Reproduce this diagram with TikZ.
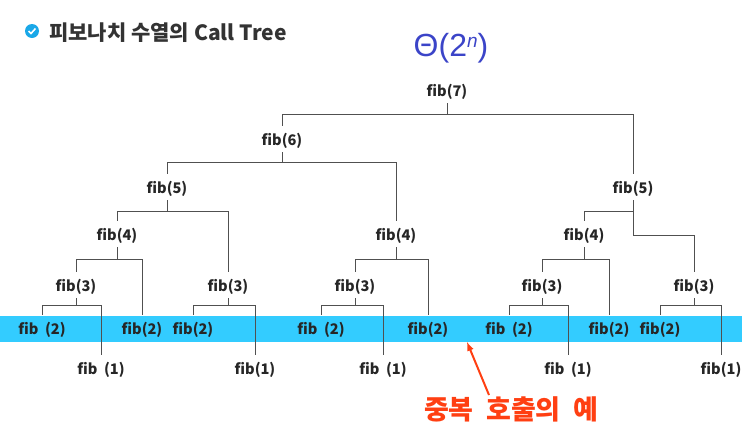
\documentclass[tikz,border=0pt]{standalone}
\usepackage{fontspec}
\setmainfont{Noto Sans CJK KR}
\newfontfamily\thetafont{Liberation Sans}
\definecolor{bandblue}{HTML}{33CCFF}
\definecolor{iconblue}{HTML}{1AA8E8}
\definecolor{thetablue}{HTML}{3B44C8}
\definecolor{callred}{HTML}{FF3F12}
\definecolor{treegray}{HTML}{505050}
\tikzset{
	fib/.style={inner sep=0, minimum height=26pt, text height=13pt, text depth=1pt, text=black!85, font=\bfseries\fontsize{14.6}{16}\selectfont},
	tree/.style={color=treegray, line width=0.75pt}
}
\def\fork(#1)(#2)(#3)(#4){\draw[tree] (#1.south) -- (#1.south |- 0,#4); \draw[tree] (#2.north) -- (#2.north |- 0,#4) -- (#3.north |- 0,#4) -- (#3.north);}

\begin{document}
\begin{tikzpicture}[x=1pt, y=-1pt]
	\useasboundingbox (0, 0) rectangle (743, 426);
	
	%%%%% BAND %%%%%
	\fill[bandblue] (0, 316) rectangle (742, 342);
	
	%%%%% TITLE %%%%%
	\node[circle, fill=iconblue, minimum size=14pt, inner sep=0] (icon) at (32, 31) {};
	\draw[white, line width=1.6pt] (28.5, 31) -- (31, 33.5) -- (35.5, 28.5);
	\node[anchor=west, inner sep=0, text=black!80, font=\bfseries\fontsize{21}{24}\selectfont] (title) at (49, 33) {피보나치 수열의 Call Tree};
	\node[inner sep=0, text=thetablue, font=\thetafont\fontsize{32}{34}\selectfont] (theta) at (451, 48) {Θ(2\raisebox{9pt}{\fontsize{19}{20}\selectfont\itshape n})};
	
	%%%%% NODES %%%%%
	\node[fib] (f7) at (447, 90) {fib(7)};
	\node[fib] (f6) at (282, 139) {fib(6)};
	\node[fib] (f5l) at (167, 187) {fib(5)};
	\node[fib] (f5r) at (633, 187) {fib(5)};
	
	\node[fib] (f4a) at (117, 234) {fib(4)};
	\node[fib] (f4b) at (396, 234) {fib(4)};
	\node[fib] (f4c) at (584, 234) {fib(4)};
	
	\node[fib] (f3a) at (76, 285) {fib(3)};
	\node[fib] (f3b) at (228, 285) {fib(3)};
	\node[fib] (f3c) at (355, 285) {fib(3)};
	\node[fib] (f3d) at (542, 285) {fib(3)};
	\node[fib] (f3e) at (694, 285) {fib(3)};
	
	\node[fib] (f2a) at (42, 328) {fib\ \ (2)};
	\node[fib] (f2b) at (142, 328) {fib(2)};
	\node[fib] (f2c) at (193, 328) {fib(2)};
	\node[fib] (f2d) at (321, 328) {fib\ \ (2)};
	\node[fib] (f2e) at (428, 328) {fib(2)};
	\node[fib] (f2f) at (509, 328) {fib\ \ (2)};
	\node[fib] (f2g) at (609, 328) {fib(2)};
	\node[fib] (f2h) at (660, 328) {fib(2)};
	
	\node[fib] (f1a) at (101, 368) {fib\ \ (1)};
	\node[fib] (f1b) at (255, 368) {fib(1)};
	\node[fib] (f1c) at (383, 368) {fib\ \ (1)};
	\node[fib] (f1d) at (568, 368) {fib\ \ (1)};
	\node[fib] (f1e) at (721, 368) {fib(1)};
	
	%%%%% LINES %%%%%
	\fork(f7)(f6)(f5r)(114);
	\fork(f6)(f5l)(f4b)(162);
	\fork(f5l)(f4a)(f3b)(211);
	\fork(f4a)(f3a)(f2b)(259);
	\fork(f3a)(f2a)(f1a)(305);
	\fork(f3b)(f2c)(f1b)(305);
	\fork(f4b)(f3c)(f2e)(259);
	\fork(f3c)(f2d)(f1c)(305);
	\fork(f4c)(f3d)(f2g)(259);
	\fork(f3d)(f2f)(f1d)(305);
	\fork(f3e)(f2h)(f1e)(305);
	
	\draw[tree] (f5r.south) -- (f5r.south |- 0,235) -- (f3e.north |- 0,235) -- (f3e.north);
	\draw[tree] (f4c.north) -- (f4c.north |- 0,211) -- (f5r.south |- 0,211);
	
	%%%%% CALLOUT %%%%%
	\node[inner sep=0, text=callred, font=\bfseries\fontsize{27}{29}\selectfont] (call) at (511, 409) {중복\ \ 호출의\ \ 예};
	\coordinate (tip) at (467, 342);
	\draw[-latex, callred, line width=2pt] (489, 395) -- (tip);
\end{tikzpicture}
\end{document}
